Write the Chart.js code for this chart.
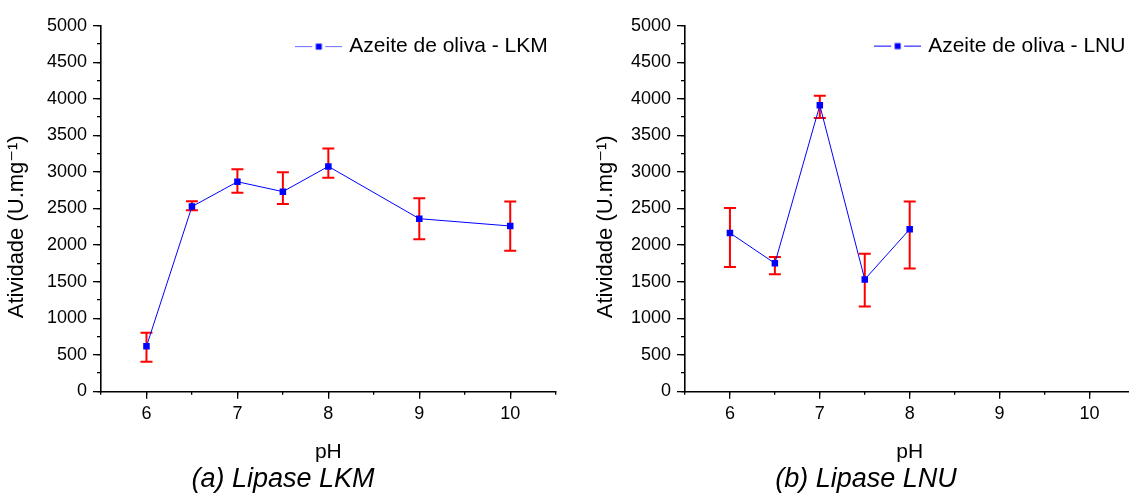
<!DOCTYPE html>
<html>
<head>
<meta charset="utf-8">
<script src="https://cdn.jsdelivr.net/npm/chart.js@4.4.1/dist/chart.umd.min.js"></script>
<style>
  html, body { margin: 0; padding: 0; background: #ffffff; overflow: hidden; width: 1129px; height: 493px; }
  #wa { position: absolute; left: 0; top: 0; width: 565px; height: 493px; }
  #wb { position: absolute; left: 590px; top: 0; width: 549px; height: 493px; }
</style>
</head>
<body>
<div id="wa"><canvas id="ca" width="565" height="493"></canvas></div>
<div id="wb"><canvas id="cb" width="549" height="493"></canvas></div>
<script>
// ---- data ----
const phLKM = [6, 6.5, 7, 7.5, 8, 9, 10];
const atividadeLKM = [615, 2525, 2865, 2730, 3075, 2360, 2260];
const lkmLow  = [405, 2475, 2715, 2560, 2920, 2080, 1920];
const lkmHigh = [800, 2600, 3035, 2995, 3320, 2640, 2595];

const phLNU = [6, 6.5, 7, 7.5, 8];
const atividadeLNU = [2165, 1750, 3910, 1530, 2215];
const lnuLow  = [1700, 1600, 3735, 1160, 1680];
const lnuHigh = [2505, 1835, 4040, 1880, 2595];

const xTickLabels = [6, 7, 8, 9, 10];
const yTickLabels = [0, 500, 1000, 1500, 2000, 2500, 3000, 3500, 4000, 4500, 5000];

const seriesLKM = 'Azeite de oliva - LKM';
const seriesLNU = 'Azeite de oliva - LNU';
const captionLKM = '(a) Lipase LKM';
const captionLNU = '(b) Lipase LNU';
const xTitle = 'pH';
const yTitle = 'Atividade (U.mg\u207B\u00B9)';

// ---- helpers ----
const FONT = "'Liberation Sans', Arial, 'DejaVu Sans', sans-serif";
Chart.defaults.font.family = FONT;
Chart.defaults.color = '#000000';

function points(xs, ys, lo, hi) {
  return xs.map((x, i) => ({ x: x, y: ys[i], yMin: lo[i], yMax: hi[i] }));
}

function legendSymbol(lineColor) {
  const c = document.createElement('canvas');
  c.width = 47; c.height = 9;
  const g = c.getContext('2d');
  g.strokeStyle = lineColor; g.lineWidth = 1;
  g.beginPath();
  g.moveTo(0, 4.5); g.lineTo(17, 4.5);
  g.moveTo(30, 4.5); g.lineTo(47, 4.5);
  g.stroke();
  g.fillStyle = '#0000ff';
  g.fillRect(20.5, 1.5, 6, 6);
  return c;
}

const errorBars = {
  id: 'errorBars',
  beforeDatasetsDraw(chart) {
    const { ctx, scales } = chart;
    const xs = scales.x, ys = scales.y;
    ctx.save();
    ctx.strokeStyle = '#ff0000';
    ctx.lineWidth = 2;
    chart.data.datasets.forEach(ds => {
      ds.data.forEach(p => {
        const px = xs.getPixelForValue(p.x);
        const y1 = ys.getPixelForValue(p.yMin);
        const y2 = ys.getPixelForValue(p.yMax);
        const cap = 6;
        ctx.beginPath();
        ctx.moveTo(px, y1); ctx.lineTo(px, y2);
        ctx.moveTo(px - cap, y1); ctx.lineTo(px + cap, y1);
        ctx.moveTo(px - cap, y2); ctx.lineTo(px + cap, y2);
        ctx.stroke();
      });
    });
    ctx.restore();
  }
};

// place the library legend in the upper right of the plot area
const legendPlace = {
  id: 'legendPlace',
  afterLayout(chart, args, opts) {
    const lg = chart.legend;
    if (!lg) return;
    const lo = lg.options.labels;
    const f = Chart.helpers.toFont(lo.font);
    const ctx = chart.ctx;
    ctx.save();
    ctx.font = f.string;
    const tw = ctx.measureText(chart.data.datasets[0].label).width;
    ctx.restore();
    const itemW = lo.pointStyleWidth + f.size / 2 + tw;
    const w = lg.width;
    const h = lg.height;
    lg.left = chart.chartArea.right - opts.gapRight - itemW - lo.padding;
    lg.right = lg.left + w;
    lg.top = chart.chartArea.top + opts.dy;
    lg.bottom = lg.top + Math.max(h, 60);
  }
};

const tickMark = { display: true, drawOnChartArea: false, drawTicks: true, color: '#000', lineWidth: 1.3 };

function makeChart(canvasId, xs, ys, lo, hi, label, caption, cfg) {
  return new Chart(document.getElementById(canvasId), {
    type: 'line',
    data: {
      datasets: [{
        label: label,
        data: points(xs, ys, lo, hi),
        xAxisID: 'x',
        yAxisID: 'y',
        borderColor: '#0000ff',
        backgroundColor: '#0000ff',
        borderWidth: 1,
        pointStyle: 'rect',
        pointRadius: 4.6,
        pointBorderWidth: 0,
        pointBackgroundColor: '#0000ff',
        tension: 0,
        fill: false
      }]
    },
    options: {
      responsive: false,
      animation: false,
      events: [],
      layout: { padding: { left: cfg.padLeft, right: cfg.padRight, top: 25.6, bottom: 0 } },
      scales: {
        x: {
          type: 'linear', position: 'bottom', weight: 0,
          min: 5.5, max: 10.5,
          afterFit: s => { s.height = 74.7; },
          afterBuildTicks: s => { s.ticks = xTickLabels.map(v => ({ value: v })); },
          ticks: {
            autoSkip: false, maxRotation: 0, padding: 4.5,
            font: { size: 18 }, color: '#000',
            callback: v => String(v)
          },
          grid: Object.assign({}, tickMark, { tickLength: 7.5 }),
          border: { display: true, color: '#000', width: 1.6 },
          title: { display: true, text: xTitle, font: { size: 21 }, color: '#000', padding: { top: 0, bottom: 1.5 } }
        },
        xMinor: {
          type: 'linear', position: 'bottom', weight: -1,
          min: 5.5, max: 10.5,
          afterFit: s => { s.height = 0; },
          ticks: { stepSize: 0.5, autoSkip: false, maxRotation: 0, padding: 0, callback: () => '' },
          grid: Object.assign({}, tickMark, { tickLength: 3.5 }),
          border: { display: false }
        },
        y: {
          type: 'linear', position: 'left', weight: 0,
          min: 0, max: 5000,
          afterFit: s => { s.width = cfg.yWidth; },
          afterBuildTicks: s => { s.ticks = yTickLabels.map(v => ({ value: v })); },
          ticks: {
            autoSkip: false, padding: 6,
            font: { size: 18 }, color: '#000',
            callback: v => String(v)
          },
          grid: Object.assign({}, tickMark, { tickLength: 8 }),
          border: { display: true, color: '#000', width: 1.6 },
          title: { display: true, text: yTitle + '      ', font: { size: 22 }, color: '#000', padding: { top: cfg.yTitlePad, bottom: 0 } }
        },
        yMinor: {
          type: 'linear', position: 'left', weight: -1,
          min: 0, max: 5000,
          afterFit: s => { s.width = 0; },
          ticks: { stepSize: 250, autoSkip: false, padding: 0, callback: () => '' },
          grid: Object.assign({}, tickMark, { tickLength: 4 }),
          border: { display: false }
        }
      },
      plugins: {
        legend: {
          display: true,
          position: 'chartArea',
          align: 'start',
          labels: {
            usePointStyle: true,
            pointStyle: legendSymbol(cfg.legendLine),
            pointStyleWidth: 40,
            padding: 10,
            color: '#000',
            font: { size: 21 }
          }
        },
        legendPlace: { gapRight: cfg.legendGap, dy: cfg.legendDy },
        title: {
          display: true, position: 'bottom', text: caption, color: '#000',
          font: { size: 27, style: 'italic', lineHeight: 1, weight: 'normal' },
          padding: { top: 0, bottom: 0 }
        },
        tooltip: { enabled: false }
      }
    },
    plugins: [errorBars, legendPlace]
  });
}

makeChart('ca', phLKM, atividadeLKM, lkmLow, lkmHigh, seriesLKM, captionLKM,
  { padLeft: 10.3, padRight: 9.3, yWidth: 90.7, yTitlePad: -6.8, legendLine: '#6a6aff', legendGap: 8, legendDy: 0.5 });
makeChart('cb', phLNU, atividadeLNU, lnuLow, lnuHigh, seriesLNU, captionLNU,
  { padLeft: 3, padRight: 0, yWidth: 92, yTitlePad: 0, legendLine: '#0000ff', legendGap: 9, legendDy: 0 });
</script>
</body>
</html>
